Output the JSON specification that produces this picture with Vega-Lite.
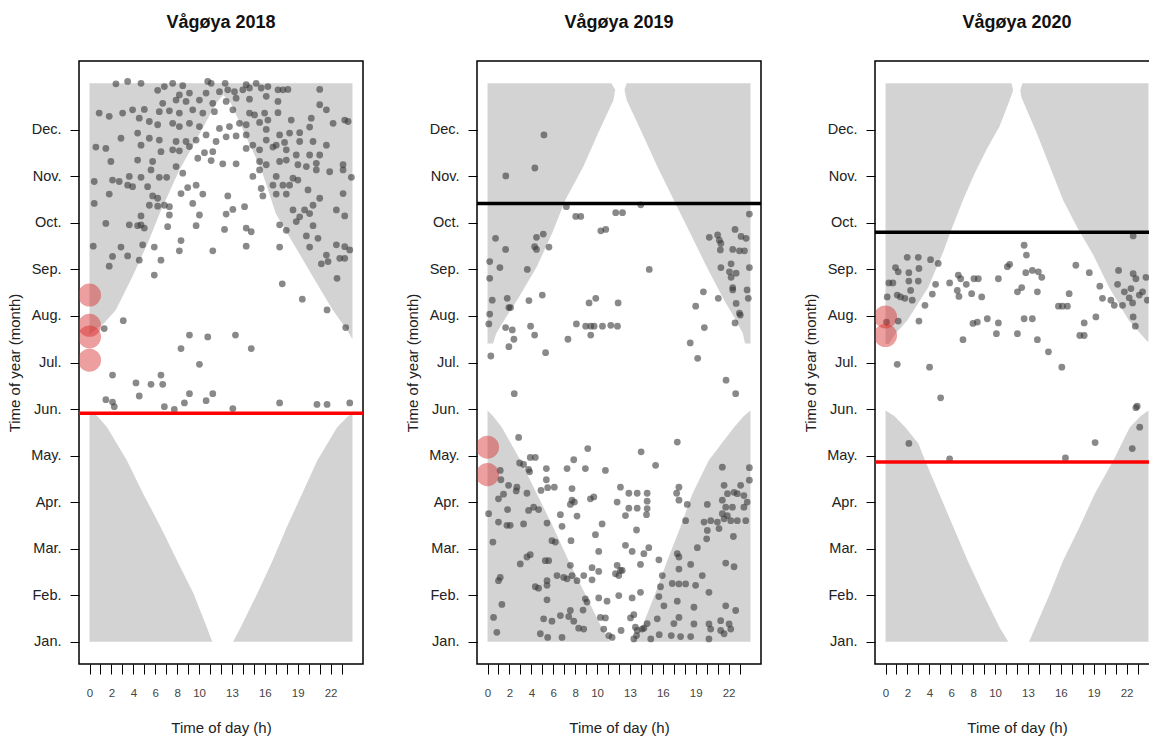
{
"$schema": "https://vega.github.io/schema/vega-lite/v6.json",
"background": "white",
"padding": {"left": 6, "top": 13, "right": 0, "bottom": 0},
"config": {
  "font": "Liberation Sans",
  "view": {"stroke": "black", "strokeWidth": 1.5},
  "axis": {"grid": false, "domain": false, "ticks": true, "tickColor": "black", "tickWidth": 1, "labelFont": "Liberation Sans", "titleFont": "Liberation Sans", "titleFontWeight": "normal", "titleColor": "#222", "labelColor": "#222", "labelFlush": false, "labelOverlap": false, "labelBound": false},
  "axisX": {"tickSize": 10, "labelPadding": 13, "labelFontSize": 11.5, "labelColor": "#444", "titleFontSize": 15, "titlePadding": 22},
  "axisY": {"tickSize": 9, "labelPadding": 9, "labelFontSize": 14.5, "titleFontSize": 15, "titlePadding": 8},
  "title": {"fontSize": 18, "fontWeight": "bold", "font": "Liberation Sans", "baseline": "alphabetic", "offset": 29, "anchor": "middle", "frame": "group", "color": "#111"}
},
"datasets": {
  "n18": [
    {"g":"uL","m":7.6,"a":0,"b":0},{"g":"uL","m":7.7,"a":0,"b":0.5},{"g":"uL","m":7.84,"a":0,"b":1.3},{"g":"uL","m":8.13,"a":0,"b":2.4},{"g":"uL","m":8.84,"a":0,"b":3.9},{"g":"uL","m":9.56,"a":0,"b":5.3},{"g":"uL","m":10.2,"a":0,"b":6.4},{"g":"uL","m":11.14,"a":0,"b":8.2},{"g":"uL","m":11.85,"a":0,"b":9.9},{"g":"uL","m":12.57,"a":0,"b":11.55},{"g":"uL","m":12.75,"a":0,"b":12.2},{"g":"uL","m":13.0,"a":0,"b":12.2},
    {"g":"uR","m":7.5,"a":24,"b":24},{"g":"uR","m":7.7,"a":23.5,"b":24},{"g":"uR","m":8.13,"a":22.2,"b":24},{"g":"uR","m":8.84,"a":20.4,"b":24},{"g":"uR","m":9.56,"a":18.6,"b":24},{"g":"uR","m":10.2,"a":17.0,"b":24},{"g":"uR","m":11.14,"a":15.7,"b":24},{"g":"uR","m":11.85,"a":14.3,"b":24},{"g":"uR","m":12.57,"a":12.9,"b":24},{"g":"uR","m":12.75,"a":12.2,"b":24},{"g":"uR","m":13.0,"a":12.2,"b":24},
    {"g":"lL","m":1.0,"a":0,"b":11.2},{"g":"lL","m":1.31,"a":0,"b":10.7},{"g":"lL","m":2.03,"a":0,"b":9.5},{"g":"lL","m":2.74,"a":0,"b":8.0},{"g":"lL","m":3.46,"a":0,"b":6.5},{"g":"lL","m":4.18,"a":0,"b":4.9},{"g":"lL","m":4.9,"a":0,"b":3.4},{"g":"lL","m":5.61,"a":0,"b":1.6},{"g":"lL","m":5.85,"a":0,"b":0.7},{"g":"lL","m":5.94,"a":0,"b":0},
    {"g":"lR","m":1.0,"a":13.1,"b":24},{"g":"lR","m":1.31,"a":13.8,"b":24},{"g":"lR","m":2.03,"a":15.3,"b":24},{"g":"lR","m":2.74,"a":16.7,"b":24},{"g":"lR","m":3.46,"a":18.0,"b":24},{"g":"lR","m":4.18,"a":19.4,"b":24},{"g":"lR","m":4.9,"a":20.8,"b":24},{"g":"lR","m":5.61,"a":22.6,"b":24},{"g":"lR","m":5.8,"a":23.4,"b":24},{"g":"lR","m":5.92,"a":24,"b":24}
  ],
  "n19": [
    {"g":"uL","m":7.41,"a":0,"b":0.5},{"g":"uL","m":7.63,"a":0,"b":0.8},{"g":"uL","m":7.98,"a":0,"b":1.7},{"g":"uL","m":8.34,"a":0,"b":2.7},{"g":"uL","m":9.06,"a":0,"b":4.5},{"g":"uL","m":9.78,"a":0,"b":5.9},{"g":"uL","m":10.49,"a":0,"b":7.1},{"g":"uL","m":11.21,"a":0,"b":8.75},{"g":"uL","m":11.93,"a":0,"b":10.1},{"g":"uL","m":12.64,"a":0,"b":11.5},{"g":"uL","m":12.86,"a":0,"b":11.65},{"g":"uL","m":13.0,"a":0,"b":11.3},
    {"g":"uR","m":7.41,"a":23.5,"b":24},{"g":"uR","m":7.63,"a":23.3,"b":24},{"g":"uR","m":7.98,"a":22.5,"b":24},{"g":"uR","m":8.34,"a":21.6,"b":24},{"g":"uR","m":9.06,"a":20.0,"b":24},{"g":"uR","m":9.78,"a":18.5,"b":24},{"g":"uR","m":10.49,"a":17.0,"b":24},{"g":"uR","m":11.21,"a":15.5,"b":24},{"g":"uR","m":11.93,"a":14.1,"b":24},{"g":"uR","m":12.64,"a":12.7,"b":24},{"g":"uR","m":12.86,"a":12.5,"b":24},{"g":"uR","m":13.0,"a":12.7,"b":24},
    {"g":"lL","m":1.0,"a":0,"b":11.2},{"g":"lL","m":1.31,"a":0,"b":10.4},{"g":"lL","m":2.03,"a":0,"b":8.9},{"g":"lL","m":2.74,"a":0,"b":7.4},{"g":"lL","m":3.46,"a":0,"b":6.0},{"g":"lL","m":4.18,"a":0,"b":4.5},{"g":"lL","m":4.9,"a":0,"b":3.0},{"g":"lL","m":5.61,"a":0,"b":1.3},{"g":"lL","m":5.85,"a":0,"b":0.5},{"g":"lL","m":5.97,"a":0,"b":0},
    {"g":"lR","m":1.0,"a":13.2,"b":24},{"g":"lR","m":1.31,"a":14.1,"b":24},{"g":"lR","m":2.03,"a":15.3,"b":24},{"g":"lR","m":2.74,"a":16.4,"b":24},{"g":"lR","m":3.46,"a":17.6,"b":24},{"g":"lR","m":4.18,"a":18.7,"b":24},{"g":"lR","m":4.9,"a":20.2,"b":24},{"g":"lR","m":5.61,"a":22.5,"b":24},{"g":"lR","m":5.85,"a":23.4,"b":24},{"g":"lR","m":5.97,"a":24,"b":24}
  ],
  "n20": [
    {"g":"uL","m":7.4,"a":0,"b":0.3},{"g":"uL","m":7.62,"a":0,"b":0.9},{"g":"uL","m":7.91,"a":0,"b":2.0},{"g":"uL","m":8.62,"a":0,"b":3.9},{"g":"uL","m":9.34,"a":0,"b":5.2},{"g":"uL","m":9.85,"a":0,"b":6.0},{"g":"uL","m":10.49,"a":0,"b":7.07},{"g":"uL","m":11.07,"a":0,"b":8.14},{"g":"uL","m":11.57,"a":0,"b":9.21},{"g":"uL","m":12.07,"a":0,"b":10.4},{"g":"uL","m":12.64,"a":0,"b":11.34},{"g":"uL","m":12.85,"a":0,"b":11.65},{"g":"uL","m":13.0,"a":0,"b":11.5},
    {"g":"uR","m":7.45,"a":23.9,"b":24},{"g":"uR","m":7.91,"a":22.2,"b":24},{"g":"uR","m":8.62,"a":20.4,"b":24},{"g":"uR","m":9.34,"a":18.9,"b":24},{"g":"uR","m":9.9,"a":17.5,"b":24},{"g":"uR","m":10.49,"a":16.2,"b":24},{"g":"uR","m":11.21,"a":15.0,"b":24},{"g":"uR","m":11.93,"a":13.8,"b":24},{"g":"uR","m":12.7,"a":12.4,"b":24},{"g":"uR","m":12.85,"a":12.3,"b":24},{"g":"uR","m":13.0,"a":12.5,"b":24},
    {"g":"lL","m":1.0,"a":0,"b":11.2},{"g":"lL","m":1.31,"a":0,"b":10.4},{"g":"lL","m":2.03,"a":0,"b":8.9},{"g":"lL","m":2.74,"a":0,"b":7.5},{"g":"lL","m":3.46,"a":0,"b":6.2},{"g":"lL","m":4.18,"a":0,"b":4.9},{"g":"lL","m":4.9,"a":0,"b":3.6},{"g":"lL","m":5.26,"a":0,"b":3.0},{"g":"lL","m":5.61,"a":0,"b":1.8},{"g":"lL","m":5.85,"a":0,"b":0.8},{"g":"lL","m":5.97,"a":0,"b":0},
    {"g":"lR","m":1.0,"a":13.1,"b":24},{"g":"lR","m":2.03,"a":15.0,"b":24},{"g":"lR","m":2.74,"a":16.2,"b":24},{"g":"lR","m":3.46,"a":17.7,"b":24},{"g":"lR","m":4.18,"a":19.1,"b":24},{"g":"lR","m":4.9,"a":20.8,"b":24},{"g":"lR","m":5.61,"a":22.3,"b":24},{"g":"lR","m":5.85,"a":23.3,"b":24},{"g":"lR","m":5.97,"a":24,"b":24}
  ],
  "p18": [
    {"h":2.41,"m":12.99},{"h":3.48,"m":13.04},{"h":4.7,"m":13.0},{"h":6.83,"m":12.93},{"h":7.59,"m":13.0},{"h":8.51,"m":12.95},{"h":10.79,"m":13.04},{"h":11.1,"m":13.0},{"h":12.38,"m":13.0},{"h":14.3,"m":12.97},{"h":15.21,"m":13.0},{"h":16.28,"m":12.93},
    {"h":6.22,"m":12.85},{"h":8.2,"m":12.75},{"h":9.12,"m":12.79},{"h":10.64,"m":12.79},{"h":11.86,"m":12.82},{"h":12.62,"m":12.86},{"h":13.23,"m":12.82},{"h":13.99,"m":12.86},{"h":14.6,"m":12.9},{"h":15.67,"m":12.9},{"h":17.2,"m":12.86},{"h":17.65,"m":12.86},{"h":18.11,"m":12.87},{"h":21.01,"m":12.87},
    {"h":6.68,"m":12.57},{"h":7.9,"m":12.64},{"h":8.81,"m":12.61},{"h":10.03,"m":12.64},{"h":11.25,"m":12.57},{"h":12.47,"m":12.61},{"h":13.38,"m":12.68},{"h":14.6,"m":12.66},{"h":16.13,"m":12.72},{"h":17.2,"m":12.61},{"h":21.01,"m":12.54},{"h":21.62,"m":12.43},
    {"h":0.88,"m":12.36},{"h":1.8,"m":12.29},{"h":3.02,"m":12.36},{"h":3.93,"m":12.43},{"h":5.0,"m":12.44},{"h":6.37,"m":12.39},{"h":7.29,"m":12.41},{"h":8.2,"m":12.36},{"h":9.42,"m":12.43},{"h":10.34,"m":12.36},{"h":11.4,"m":12.39},{"h":13.08,"m":12.43},{"h":14.6,"m":12.36},{"h":15.06,"m":12.32},{"h":15.98,"m":12.36},{"h":16.28,"m":12.21},{"h":17.2,"m":12.37},{"h":18.41,"m":12.21},{"h":20.24,"m":12.25},{"h":22.23,"m":12.14},{"h":23.29,"m":12.21},{"h":23.6,"m":12.18},
    {"h":4.54,"m":12.25},{"h":5.46,"m":12.18},{"h":6.22,"m":12.11},{"h":7.59,"m":12.14},{"h":8.2,"m":12.07},{"h":9.12,"m":12.14},{"h":10.03,"m":12.07},{"h":11.86,"m":12.03},{"h":12.77,"m":12.07},{"h":13.69,"m":12.14},{"h":14.3,"m":12.11},{"h":15.52,"m":12.16},{"h":16.13,"m":12.01},{"h":17.35,"m":11.89},{"h":18.26,"m":11.93},{"h":19.18,"m":11.94},{"h":20.09,"m":12.06},
    {"h":2.87,"m":11.82},{"h":4.39,"m":11.93},{"h":4.7,"m":11.67},{"h":5.46,"m":11.82},{"h":6.37,"m":11.78},{"h":7.9,"m":11.75},{"h":8.81,"m":11.75},{"h":9.73,"m":11.78},{"h":10.64,"m":11.89},{"h":11.55,"m":11.75},{"h":12.47,"m":11.85},{"h":13.38,"m":11.87},{"h":14.3,"m":11.89},{"h":14.91,"m":11.67},{"h":16.13,"m":11.78},{"h":17.04,"m":11.67},{"h":17.8,"m":11.73},{"h":19.18,"m":11.75},{"h":20.4,"m":11.75},{"h":21.62,"m":11.67},
    {"h":0.58,"m":11.63},{"h":1.49,"m":11.6},{"h":6.52,"m":11.53},{"h":7.59,"m":11.57},{"h":8.2,"m":11.55},{"h":9.12,"m":11.64},{"h":10.49,"m":11.51},{"h":11.25,"m":11.53},{"h":14.3,"m":11.6},{"h":15.52,"m":11.57},{"h":16.74,"m":11.63},{"h":17.96,"m":11.57},{"h":18.87,"m":11.46},{"h":20.09,"m":11.46},{"h":21.01,"m":11.46},
    {"h":1.95,"m":11.32},{"h":4.39,"m":11.35},{"h":5.76,"m":11.32},{"h":7.9,"m":11.21},{"h":9.88,"m":11.39},{"h":11.1,"m":11.34},{"h":12.16,"m":11.27},{"h":13.38,"m":11.27},{"h":15.52,"m":11.32},{"h":16.13,"m":11.25},{"h":17.35,"m":11.32},{"h":17.96,"m":11.35},{"h":19.02,"m":11.25},{"h":19.79,"m":11.21},{"h":20.7,"m":11.28},{"h":23.14,"m":11.25},
    {"h":0.43,"m":10.89},{"h":2.1,"m":10.92},{"h":2.71,"m":10.89},{"h":3.63,"m":11.0},{"h":4.7,"m":10.98},{"h":5.61,"m":11.14},{"h":6.37,"m":10.98},{"h":7.04,"m":10.98},{"h":8.51,"m":11.07},{"h":14.91,"m":11.0},{"h":15.52,"m":11.14},{"h":17.04,"m":11.0},{"h":18.57,"m":10.96},{"h":19.02,"m":10.92},{"h":20.7,"m":11.14},{"h":21.92,"m":11.1},{"h":23.14,"m":11.14},{"h":23.9,"m":10.98},
    {"h":3.48,"m":10.81},{"h":3.93,"m":10.78},{"h":5.3,"m":10.78},{"h":8.96,"m":10.76},{"h":9.73,"m":10.81},{"h":15.67,"m":10.74},{"h":16.74,"m":10.81},{"h":17.65,"m":10.81},{"h":18.26,"m":10.81},{"h":19.94,"m":10.71},
    {"h":1.8,"m":10.62},{"h":5.76,"m":10.58},{"h":6.22,"m":10.53},{"h":8.35,"m":10.63},{"h":10.34,"m":10.62},{"h":12.62,"m":10.58},{"h":15.82,"m":10.58},{"h":17.04,"m":10.62},{"h":17.96,"m":10.62},{"h":21.01,"m":10.53},{"h":23.14,"m":10.63},
    {"h":0.43,"m":10.42},{"h":5.46,"m":10.38},{"h":6.22,"m":10.36},{"h":6.83,"m":10.38},{"h":7.29,"m":10.35},{"h":9.42,"m":10.42},{"h":13.08,"m":10.29},{"h":14.15,"m":10.35},{"h":18.57,"m":10.28},{"h":19.63,"m":10.28},{"h":20.4,"m":10.38},{"h":22.53,"m":10.28},{"h":4.7,"m":10.15},{"h":7.29,"m":10.17},{"h":10.03,"m":10.17},{"h":12.47,"m":10.19},{"h":19.18,"m":10.13},{"h":20.09,"m":10.2},{"h":23.29,"m":10.15},
    {"h":1.49,"m":9.99},{"h":3.63,"m":9.96},{"h":4.39,"m":9.94},{"h":4.7,"m":9.96},{"h":5.0,"m":9.89},{"h":7.13,"m":9.92},{"h":9.73,"m":9.94},{"h":12.32,"m":9.86},{"h":14.3,"m":9.89},{"h":14.76,"m":9.81},{"h":17.35,"m":9.96},{"h":17.96,"m":9.84},{"h":18.87,"m":10.03},{"h":20.4,"m":9.94},{"h":19.79,"m":9.72},{"h":20.85,"m":9.67},{"h":22.53,"m":9.53},{"h":23.29,"m":9.49},{"h":23.75,"m":9.42},{"h":22.84,"m":9.24},{"h":23.29,"m":9.24},{"h":21.62,"m":9.31},{"h":21.77,"m":9.17},{"h":21.16,"m":9.12},
    {"h":0.34,"m":9.5},{"h":2.1,"m":9.28},{"h":2.87,"m":9.48},{"h":3.48,"m":9.29},{"h":4.54,"m":9.2},{"h":4.85,"m":9.53},{"h":5.91,"m":9.48},{"h":6.52,"m":9.2},{"h":8.2,"m":9.4},{"h":8.35,"m":9.62},{"h":11.25,"m":9.4},{"h":14.3,"m":9.5},{"h":17.35,"m":9.48},{"h":20.09,"m":9.48},{"h":1.8,"m":9.07},{"h":5.91,"m":8.88},
    {"h":17.59,"m":8.69},{"h":22.59,"m":8.81},{"h":19.42,"m":8.36},{"h":21.68,"m":8.13},{"h":23.38,"m":7.75},{"h":3.08,"m":7.9},{"h":1.34,"m":7.73},
    {"h":9.12,"m":7.59},{"h":10.79,"m":7.55},{"h":13.32,"m":7.59},{"h":8.35,"m":7.3},{"h":14.76,"m":7.3},{"h":10.03,"m":6.96},
    {"h":2.1,"m":6.73},{"h":4.24,"m":6.56},{"h":5.61,"m":6.53},{"h":6.52,"m":6.73},{"h":6.68,"m":6.53},{"h":9.12,"m":6.33},{"h":11.25,"m":6.33},{"h":4.54,"m":6.28},{"h":1.49,"m":6.2},{"h":2.1,"m":6.15},{"h":2.26,"m":6.05},{"h":8.66,"m":6.13},{"h":10.64,"m":6.18},{"h":6.83,"m":6.05},{"h":7.74,"m":5.99},{"h":13.08,"m":6.01},{"h":17.35,"m":6.13},{"h":20.76,"m":6.1},{"h":21.68,"m":6.1},{"h":23.75,"m":6.13}
  ],
  "p19": [
    {"h":1.67,"m":11.01},{"h":4.32,"m":11.18},{"h":5.15,"m":11.89},{"h":7.2,"m":10.35},{"h":13.99,"m":10.39},
    {"h":8.05,"m":10.14},{"h":8.51,"m":10.14},{"h":11.7,"m":10.22},{"h":12.32,"m":10.22},{"h":23.9,"m":10.19},{"h":10.34,"m":9.83},{"h":10.79,"m":9.86},{"h":0.73,"m":9.67},{"h":4.47,"m":9.69},{"h":5.09,"m":9.76},{"h":4.3,"m":9.49},{"h":4.47,"m":9.43},{"h":5.61,"m":9.48},{"h":1.65,"m":9.43},{"h":20.24,"m":9.69},{"h":21.0,"m":9.74},{"h":21.16,"m":9.63},{"h":21.3,"m":9.56},{"h":21.25,"m":9.42},{"h":22.59,"m":9.86},{"h":23.14,"m":9.71},{"h":23.6,"m":9.67},{"h":22.38,"m":9.43},{"h":22.99,"m":9.4},{"h":23.45,"m":9.4},{"h":0.2,"m":9.17},{"h":1.13,"m":9.04},{"h":3.63,"m":9.0},{"h":14.76,"m":9.0},{"h":21.3,"m":9.04},{"h":22.08,"m":8.95},{"h":22.69,"m":8.92},{"h":23.9,"m":9.04},{"h":22.23,"m":9.12},{"h":0.2,"m":8.81},{"h":0.43,"m":8.34},{"h":1.8,"m":8.38},{"h":1.95,"m":8.18},{"h":2.1,"m":8.18},{"h":3.78,"m":8.33},{"h":5.0,"m":8.45},{"h":9.88,"m":8.38},{"h":9.27,"m":8.28},{"h":11.92,"m":8.28},{"h":0.2,"m":8.04},{"h":0.12,"m":7.83},{"h":1.65,"m":7.75},{"h":2.26,"m":7.7},{"h":3.93,"m":7.78},{"h":4.3,"m":7.59},{"h":2.41,"m":7.5},{"h":1.95,"m":7.34},{"h":0.3,"m":7.14},{"h":5.3,"m":7.21},{"h":7.34,"m":7.5},{"h":8.11,"m":7.83},{"h":8.96,"m":7.78},{"h":9.42,"m":7.78},{"h":9.73,"m":7.78},{"h":9.42,"m":7.59},{"h":10.49,"m":7.78},{"h":11.25,"m":7.8},{"h":11.86,"m":7.78},{"h":19.7,"m":8.52},{"h":21.06,"m":8.38},{"h":22.23,"m":8.83},{"h":22.38,"m":8.61},{"h":22.38,"m":8.56},{"h":23.69,"m":8.56},{"h":23.8,"m":8.38},{"h":22.69,"m":8.27},{"h":19.0,"m":8.21},{"h":22.99,"m":8.06},{"h":23.07,"m":8.02},{"h":22.59,"m":7.85},{"h":19.79,"m":7.75},{"h":18.5,"m":7.42},{"h":19.18,"m":7.09},{"h":21.77,"m":6.62},
    {"h":2.44,"m":6.33},{"h":22.65,"m":6.33},{"h":2.84,"m":5.39},{"h":17.32,"m":5.29},{"h":9.15,"m":5.15},{"h":14.02,"m":5.08},{"h":7.87,"m":4.91},{"h":2.93,"m":4.84},{"h":3.29,"m":4.81},{"h":3.9,"m":4.96},{"h":4.36,"m":4.96},{"h":3.75,"m":4.7},{"h":3.84,"m":4.65},{"h":1.16,"m":4.68},{"h":1.22,"m":4.48},{"h":5.37,"m":4.72},{"h":7.26,"m":4.72},{"h":8.93,"m":4.72},{"h":10.76,"m":4.68},{"h":15.34,"m":4.79},{"h":21.43,"m":4.75},{"h":23.9,"m":4.74},{"h":5.37,"m":4.48},{"h":1.92,"m":4.36},{"h":2.68,"m":4.32},{"h":2.62,"m":4.24},{"h":3.6,"m":4.19},{"h":4.88,"m":4.25},{"h":5.49,"m":4.31},{"h":6.1,"m":4.32},{"h":7.71,"m":4.29},{"h":12.13,"m":4.32},{"h":12.9,"m":4.19},{"h":13.66,"m":4.19},{"h":14.57,"m":4.19},{"h":17.47,"m":4.32},{"h":17.26,"m":4.19},{"h":21.59,"m":4.36},{"h":22.5,"m":4.21},{"h":23.1,"m":4.36},{"h":23.9,"m":4.47},{"h":21.9,"m":4.18},{"h":22.8,"m":4.18},{"h":23.4,"m":4.14},{"h":1.0,"m":4.07},{"h":1.46,"m":4.17},{"h":9.39,"m":4.07},{"h":9.7,"m":4.11},{"h":7.71,"m":4.04},{"h":7.56,"m":3.95},{"h":7.93,"m":4.0},{"h":11.83,"m":4.0},{"h":12.9,"m":3.87},{"h":13.66,"m":3.87},{"h":14.57,"m":4.02},{"h":14.57,"m":3.86},{"h":17.47,"m":4.04},{"h":18.23,"m":3.95},{"h":20.06,"m":3.95},{"h":21.43,"m":4.04},{"h":21.74,"m":3.89},{"h":22.35,"m":3.89},{"h":23.4,"m":3.89},{"h":23.7,"m":4.0},{"h":0.1,"m":3.75},{"h":1.83,"m":3.84},{"h":3.75,"m":3.82},{"h":4.21,"m":3.89},{"h":4.66,"m":3.84},{"h":6.65,"m":3.73},{"h":8.17,"m":3.7},
    {"h":1.0,"m":3.57},{"h":1.77,"m":3.5},{"h":2.07,"m":3.5},{"h":3.29,"m":3.53},{"h":5.43,"m":3.55},{"h":6.8,"m":3.48},{"h":10.46,"m":3.53},{"h":9.85,"m":3.3},{"h":12.59,"m":3.71},{"h":13.6,"m":3.4},{"h":14.51,"m":3.73},{"h":18.08,"m":3.6},{"h":19.76,"m":3.57},{"h":20.37,"m":3.6},{"h":20.98,"m":3.57},{"h":21.59,"m":3.64},{"h":22.2,"m":3.6},{"h":22.8,"m":3.6},{"h":23.57,"m":3.6},{"h":21.43,"m":3.75},{"h":21.89,"m":3.71},{"h":20.06,"m":3.39},{"h":21.13,"m":3.43},{"h":20.0,"m":3.21},{"h":22.44,"m":3.26},{"h":0.49,"m":3.14},{"h":5.88,"m":3.17},{"h":6.19,"m":3.14},{"h":7.62,"m":3.17},{"h":10.15,"m":2.94},{"h":12.59,"m":3.07},{"h":13.2,"m":2.94},{"h":14.27,"m":2.89},{"h":14.72,"m":3.02},{"h":2.99,"m":2.67},{"h":3.6,"m":2.82},{"h":3.9,"m":2.87},{"h":5.27,"m":2.74},{"h":5.58,"m":2.74},{"h":15.64,"m":2.76},{"h":13.96,"m":2.66},{"h":17.32,"m":2.89},{"h":17.47,"m":2.82},{"h":17.47,"m":2.56},{"h":18.54,"m":2.66},{"h":19.15,"m":3.02},{"h":21.74,"m":2.69},{"h":22.5,"m":2.61},{"h":11.83,"m":2.64},{"h":12.13,"m":2.53},{"h":11.68,"m":2.46},{"h":9.54,"m":2.59},{"h":10.15,"m":2.51},{"h":7.56,"m":2.64},{"h":6.95,"m":2.38},{"h":7.26,"m":2.35},{"h":7.71,"m":2.42},{"h":8.17,"m":2.31},{"h":6.34,"m":2.42},{"h":8.78,"m":2.42},{"h":1.0,"m":2.31},{"h":1.16,"m":2.38},{"h":4.36,"m":2.18},{"h":4.66,"m":2.15},{"h":5.43,"m":2.31},{"h":5.43,"m":2.21},{"h":9.54,"m":2.33},{"h":11.98,"m":2.42},{"h":12.29,"m":2.53},{"h":15.95,"m":2.42},{"h":16.86,"m":2.25},{"h":15.79,"m":2.18},{"h":17.47,"m":2.24},{"h":18.08,"m":2.24},{"h":18.99,"m":2.21},{"h":19.6,"m":2.42},{"h":20.21,"m":2.06},{"h":13.96,"m":2.06},{"h":5.43,"m":1.9},{"h":1.31,"m":1.8},{"h":8.93,"m":1.92},{"h":9.08,"m":1.85},{"h":8.72,"m":1.68},{"h":10.15,"m":1.94},{"h":10.91,"m":1.87},{"h":11.98,"m":1.99},{"h":13.2,"m":1.94},{"h":15.64,"m":1.97},{"h":16.1,"m":1.77},{"h":17.32,"m":1.87},{"h":18.84,"m":1.74},{"h":21.74,"m":1.77},{"h":22.65,"m":1.67},{"h":0.55,"m":1.52},{"h":5.12,"m":1.49},{"h":5.88,"m":1.44},{"h":6.65,"m":1.56},{"h":7.56,"m":1.67},{"h":7.41,"m":1.54},{"h":8.32,"m":1.29},{"h":8.78,"m":1.27},{"h":7.87,"m":1.44},{"h":10.3,"m":1.52},{"h":10.76,"m":1.51},{"h":13.05,"m":1.51},{"h":13.35,"m":1.58},{"h":15.49,"m":1.49},{"h":14.57,"m":1.39},{"h":17.47,"m":1.52},{"h":17.01,"m":1.39},{"h":18.84,"m":1.38},{"h":20.21,"m":1.38},{"h":20.37,"m":1.27},{"h":21.28,"m":1.45},{"h":22.05,"m":1.38},{"h":22.2,"m":1.27},{"h":0.85,"m":1.2},{"h":4.82,"m":1.17},{"h":5.49,"m":1.09},{"h":6.8,"m":1.09},{"h":10.61,"m":1.27},{"h":11.07,"m":1.13},{"h":11.37,"m":1.09},{"h":12.19,"m":1.24},{"h":13.5,"m":1.31},{"h":13.66,"m":1.24},{"h":14.11,"m":1.27},{"h":14.27,"m":1.29},{"h":13.6,"m":1.13},{"h":13.35,"m":1.06},{"h":14.9,"m":1.06},{"h":15.67,"m":1.15},{"h":16.77,"m":1.13},{"h":17.62,"m":1.11},{"h":18.54,"m":1.11},{"h":20.21,"m":1.06},{"h":21.59,"m":1.17},{"h":21.28,"m":1.24}
  ],
  "p20": [
    {"h":22.6,"m":9.72},{"h":12.65,"m":9.52},{"h":12.86,"m":9.31},{"h":17.37,"m":9.09},{"h":11.12,"m":9.06},{"h":11.33,"m":9.11},{"h":1.98,"m":9.26},{"h":2.99,"m":9.26},{"h":4.11,"m":9.21},{"h":0.91,"m":9.04},{"h":1.16,"m":8.95},{"h":2.13,"m":8.93},{"h":3.05,"m":9.02},{"h":4.81,"m":9.13},{"h":12.8,"m":8.93},{"h":13.4,"m":8.98},{"h":13.95,"m":8.95},{"h":14.26,"m":8.83},{"h":18.6,"m":8.93},{"h":6.64,"m":8.88},{"h":6.86,"m":8.8},{"h":7.37,"m":8.68},{"h":8.07,"m":8.8},{"h":8.47,"m":8.8},{"h":10.3,"m":8.8},{"h":0.3,"m":8.71},{"h":0.67,"m":8.71},{"h":2.13,"m":8.75},{"h":2.99,"m":8.75},{"h":4.57,"m":8.68},{"h":5.85,"m":8.71},{"h":6.55,"m":8.55},{"h":6.7,"m":8.42},{"h":7.86,"m":8.48},{"h":8.78,"m":8.41},{"h":12.04,"m":8.52},{"h":12.43,"m":8.61},{"h":13.86,"m":8.52},{"h":16.76,"m":8.48},{"h":19.56,"m":8.64},{"h":19.8,"m":8.38},{"h":21.27,"m":8.98},{"h":22.6,"m":8.91},{"h":22.85,"m":8.8},{"h":23.77,"m":8.83},{"h":21.18,"m":8.68},{"h":21.8,"m":8.52},{"h":22.4,"m":8.59},{"h":23.16,"m":8.45},{"h":23.46,"m":8.52},{"h":23.9,"m":8.34},{"h":20.57,"m":8.34},{"h":20.88,"m":8.23},{"h":21.63,"m":8.23},{"h":22.24,"m":8.39},{"h":22.55,"m":8.28},{"h":0.15,"m":8.41},{"h":1.07,"m":8.45},{"h":1.37,"m":8.41},{"h":1.77,"m":8.38},{"h":2.44,"m":8.34},{"h":2.29,"m":8.55},{"h":4.27,"m":8.47},{"h":3.6,"m":8.23},{"h":15.78,"m":8.21},{"h":16.15,"m":8.21},{"h":16.6,"m":8.21},{"h":19.2,"m":7.98},{"h":22.6,"m":7.98},{"h":22.8,"m":7.78},{"h":0.09,"m":7.87},{"h":1.16,"m":7.89},{"h":3.05,"m":7.89},{"h":7.98,"m":7.84},{"h":8.38,"m":7.87},{"h":9.29,"m":7.94},{"h":10.3,"m":7.85},{"h":12.65,"m":7.94},{"h":13.4,"m":7.94},{"h":18.13,"m":7.85},{"h":17.73,"m":7.58},{"h":18.13,"m":7.58},{"h":10.12,"m":7.62},{"h":12.04,"m":7.62},{"h":13.86,"m":7.49},{"h":7.07,"m":7.49},{"h":14.87,"m":7.23},{"h":16.09,"m":6.9},{"h":1.07,"m":6.96},{"h":4.02,"m":6.9},{"h":5.03,"m":6.24},
    {"h":22.85,"m":6.03},{"h":22.97,"m":6.06},{"h":23.2,"m":5.61},{"h":2.13,"m":5.26},{"h":19.13,"m":5.28},{"h":22.52,"m":5.15},{"h":5.85,"m":4.93},{"h":16.42,"m":4.95}
  ],
  "r18": [{"h":0,"m":8.45},{"h":0,"m":7.8},{"h":0,"m":7.55},{"h":0,"m":7.05}],
  "r19": [{"h":0,"m":5.18},{"h":0,"m":4.59}],
  "r20": [{"h":0,"m":7.98},{"h":0,"m":7.58}],
  "l18": [{"m":5.91,"c":"#ff0000"}],
  "l19": [{"m":10.42,"c":"#000000"}],
  "l20": [{"m":9.8,"c":"#000000"},{"m":4.86,"c":"#ff0000"}]
},
"bounds": "flush",
"spacing": 114,
"hconcat": [
  {"width": 284, "height": 603, "title": "Vågøya 2018",
   "layer": [
    {"data": {"name": "n18"}, "mark": {"type": "area", "orient": "horizontal", "color": "#d3d3d3"},
     "encoding": {
      "y": {"field": "m", "type": "quantitative", "title": "Time of year (month)", "scale": {"domain": [0.52, 13.48], "nice": false, "zero": false}, "axis": {"values": [1,2,3,4,5,6,7,8,9,10,11,12], "labelOverlap": false, "labelExpr": "['Jan.','Feb.','Mar.','Apr.','May.','Jun.','Jul.','Aug.','Sep.','Oct.','Nov.','Dec.'][datum.value-1]"}},
      "x": {"field": "a", "type": "quantitative", "title": "Time of day (h)", "scale": {"domain": [-0.96, 24.96], "nice": false, "zero": false}, "axis": {"values": [0,1,2,3,4,5,6,7,8,9,10,11,12,13,14,15,16,17,18,19,20,21,22,23], "ticks": true, "tickSize": 10, "tickColor": "#000000", "tickWidth": 1, "labelOverlap": false, "labelSeparation": 0, "labelExpr": "(datum.value == 0 || datum.value == 2 || datum.value == 4 || datum.value == 6 || datum.value == 8 || datum.value == 10 || datum.value == 13 || datum.value == 16 || datum.value == 19 || datum.value == 22) ? datum.label : ''"}},
      "x2": {"field": "b"},
      "detail": {"field": "g"}}},
    {"data": {"name": "p18"}, "mark": {"type": "circle", "color": "#3a3a3a", "opacity": 0.6, "size": 46},
     "encoding": {
      "x": {"field": "h", "type": "quantitative", "title": "Time of day (h)", "axis": {"values": [0,1,2,3,4,5,6,7,8,9,10,11,12,13,14,15,16,17,18,19,20,21,22,23], "ticks": true, "tickSize": 10, "tickColor": "#000000", "tickWidth": 1, "labelOverlap": false, "labelSeparation": 0, "labelExpr": "(datum.value == 0 || datum.value == 2 || datum.value == 4 || datum.value == 6 || datum.value == 8 || datum.value == 10 || datum.value == 13 || datum.value == 16 || datum.value == 19 || datum.value == 22) ? datum.label : ''"}},
      "y": {"field": "m", "type": "quantitative", "title": "Time of year (month)", "axis": {"values": [1,2,3,4,5,6,7,8,9,10,11,12], "labelOverlap": false, "labelExpr": "['Jan.','Feb.','Mar.','Apr.','May.','Jun.','Jul.','Aug.','Sep.','Oct.','Nov.','Dec.'][datum.value-1]"}}}},
    {"data": {"name": "r18"}, "mark": {"type": "circle", "color": "#d62728", "opacity": 0.45, "size": 530, "clip": true},
     "encoding": {
      "x": {"field": "h", "type": "quantitative", "title": "Time of day (h)", "axis": {"values": [0,1,2,3,4,5,6,7,8,9,10,11,12,13,14,15,16,17,18,19,20,21,22,23], "ticks": true, "tickSize": 10, "tickColor": "#000000", "tickWidth": 1, "labelOverlap": false, "labelSeparation": 0, "labelExpr": "(datum.value == 0 || datum.value == 2 || datum.value == 4 || datum.value == 6 || datum.value == 8 || datum.value == 10 || datum.value == 13 || datum.value == 16 || datum.value == 19 || datum.value == 22) ? datum.label : ''"}},
      "y": {"field": "m", "type": "quantitative", "title": "Time of year (month)", "axis": {"values": [1,2,3,4,5,6,7,8,9,10,11,12], "labelOverlap": false, "labelExpr": "['Jan.','Feb.','Mar.','Apr.','May.','Jun.','Jul.','Aug.','Sep.','Oct.','Nov.','Dec.'][datum.value-1]"}}}},
    {"data": {"name": "l18"}, "mark": {"type": "rule", "strokeWidth": 3.5},
     "encoding": {
      "y": {"field": "m", "type": "quantitative", "title": "Time of year (month)", "axis": {"values": [1,2,3,4,5,6,7,8,9,10,11,12], "labelOverlap": false, "labelExpr": "['Jan.','Feb.','Mar.','Apr.','May.','Jun.','Jul.','Aug.','Sep.','Oct.','Nov.','Dec.'][datum.value-1]"}},
      "color": {"field": "c", "type": "nominal", "scale": null}}}
   ]},
  {"width": 284, "height": 603, "title": "Vågøya 2019",
   "layer": [
    {"data": {"name": "n19"}, "mark": {"type": "area", "orient": "horizontal", "color": "#d3d3d3"},
     "encoding": {
      "y": {"field": "m", "type": "quantitative", "title": "Time of year (month)", "scale": {"domain": [0.52, 13.48], "nice": false, "zero": false}, "axis": {"values": [1,2,3,4,5,6,7,8,9,10,11,12], "labelOverlap": false, "labelExpr": "['Jan.','Feb.','Mar.','Apr.','May.','Jun.','Jul.','Aug.','Sep.','Oct.','Nov.','Dec.'][datum.value-1]"}},
      "x": {"field": "a", "type": "quantitative", "title": "Time of day (h)", "scale": {"domain": [-0.96, 24.96], "nice": false, "zero": false}, "axis": {"values": [0,1,2,3,4,5,6,7,8,9,10,11,12,13,14,15,16,17,18,19,20,21,22,23], "ticks": true, "tickSize": 10, "tickColor": "#000000", "tickWidth": 1, "labelOverlap": false, "labelSeparation": 0, "labelExpr": "(datum.value == 0 || datum.value == 2 || datum.value == 4 || datum.value == 6 || datum.value == 8 || datum.value == 10 || datum.value == 13 || datum.value == 16 || datum.value == 19 || datum.value == 22) ? datum.label : ''"}},
      "x2": {"field": "b"},
      "detail": {"field": "g"}}},
    {"data": {"name": "p19"}, "mark": {"type": "circle", "color": "#3a3a3a", "opacity": 0.6, "size": 46},
     "encoding": {
      "x": {"field": "h", "type": "quantitative", "title": "Time of day (h)", "axis": {"values": [0,1,2,3,4,5,6,7,8,9,10,11,12,13,14,15,16,17,18,19,20,21,22,23], "ticks": true, "tickSize": 10, "tickColor": "#000000", "tickWidth": 1, "labelOverlap": false, "labelSeparation": 0, "labelExpr": "(datum.value == 0 || datum.value == 2 || datum.value == 4 || datum.value == 6 || datum.value == 8 || datum.value == 10 || datum.value == 13 || datum.value == 16 || datum.value == 19 || datum.value == 22) ? datum.label : ''"}},
      "y": {"field": "m", "type": "quantitative", "title": "Time of year (month)", "axis": {"values": [1,2,3,4,5,6,7,8,9,10,11,12], "labelOverlap": false, "labelExpr": "['Jan.','Feb.','Mar.','Apr.','May.','Jun.','Jul.','Aug.','Sep.','Oct.','Nov.','Dec.'][datum.value-1]"}}}},
    {"data": {"name": "r19"}, "mark": {"type": "circle", "color": "#d62728", "opacity": 0.45, "size": 530, "clip": true},
     "encoding": {
      "x": {"field": "h", "type": "quantitative", "title": "Time of day (h)", "axis": {"values": [0,1,2,3,4,5,6,7,8,9,10,11,12,13,14,15,16,17,18,19,20,21,22,23], "ticks": true, "tickSize": 10, "tickColor": "#000000", "tickWidth": 1, "labelOverlap": false, "labelSeparation": 0, "labelExpr": "(datum.value == 0 || datum.value == 2 || datum.value == 4 || datum.value == 6 || datum.value == 8 || datum.value == 10 || datum.value == 13 || datum.value == 16 || datum.value == 19 || datum.value == 22) ? datum.label : ''"}},
      "y": {"field": "m", "type": "quantitative", "title": "Time of year (month)", "axis": {"values": [1,2,3,4,5,6,7,8,9,10,11,12], "labelOverlap": false, "labelExpr": "['Jan.','Feb.','Mar.','Apr.','May.','Jun.','Jul.','Aug.','Sep.','Oct.','Nov.','Dec.'][datum.value-1]"}}}},
    {"data": {"name": "l19"}, "mark": {"type": "rule", "strokeWidth": 3.5},
     "encoding": {
      "y": {"field": "m", "type": "quantitative", "title": "Time of year (month)", "axis": {"values": [1,2,3,4,5,6,7,8,9,10,11,12], "labelOverlap": false, "labelExpr": "['Jan.','Feb.','Mar.','Apr.','May.','Jun.','Jul.','Aug.','Sep.','Oct.','Nov.','Dec.'][datum.value-1]"}},
      "color": {"field": "c", "type": "nominal", "scale": null}}}
   ]},
  {"width": 284, "height": 603, "title": "Vågøya 2020",
   "layer": [
    {"data": {"name": "n20"}, "mark": {"type": "area", "orient": "horizontal", "color": "#d3d3d3"},
     "encoding": {
      "y": {"field": "m", "type": "quantitative", "title": "Time of year (month)", "scale": {"domain": [0.52, 13.48], "nice": false, "zero": false}, "axis": {"values": [1,2,3,4,5,6,7,8,9,10,11,12], "labelOverlap": false, "labelExpr": "['Jan.','Feb.','Mar.','Apr.','May.','Jun.','Jul.','Aug.','Sep.','Oct.','Nov.','Dec.'][datum.value-1]"}},
      "x": {"field": "a", "type": "quantitative", "title": "Time of day (h)", "scale": {"domain": [-0.96, 24.96], "nice": false, "zero": false}, "axis": {"values": [0,1,2,3,4,5,6,7,8,9,10,11,12,13,14,15,16,17,18,19,20,21,22,23], "ticks": true, "tickSize": 10, "tickColor": "#000000", "tickWidth": 1, "labelOverlap": false, "labelSeparation": 0, "labelExpr": "(datum.value == 0 || datum.value == 2 || datum.value == 4 || datum.value == 6 || datum.value == 8 || datum.value == 10 || datum.value == 13 || datum.value == 16 || datum.value == 19 || datum.value == 22) ? datum.label : ''"}},
      "x2": {"field": "b"},
      "detail": {"field": "g"}}},
    {"data": {"name": "p20"}, "mark": {"type": "circle", "color": "#3a3a3a", "opacity": 0.6, "size": 46},
     "encoding": {
      "x": {"field": "h", "type": "quantitative", "title": "Time of day (h)", "axis": {"values": [0,1,2,3,4,5,6,7,8,9,10,11,12,13,14,15,16,17,18,19,20,21,22,23], "ticks": true, "tickSize": 10, "tickColor": "#000000", "tickWidth": 1, "labelOverlap": false, "labelSeparation": 0, "labelExpr": "(datum.value == 0 || datum.value == 2 || datum.value == 4 || datum.value == 6 || datum.value == 8 || datum.value == 10 || datum.value == 13 || datum.value == 16 || datum.value == 19 || datum.value == 22) ? datum.label : ''"}},
      "y": {"field": "m", "type": "quantitative", "title": "Time of year (month)", "axis": {"values": [1,2,3,4,5,6,7,8,9,10,11,12], "labelOverlap": false, "labelExpr": "['Jan.','Feb.','Mar.','Apr.','May.','Jun.','Jul.','Aug.','Sep.','Oct.','Nov.','Dec.'][datum.value-1]"}}}},
    {"data": {"name": "r20"}, "mark": {"type": "circle", "color": "#d62728", "opacity": 0.45, "size": 530, "clip": true},
     "encoding": {
      "x": {"field": "h", "type": "quantitative", "title": "Time of day (h)", "axis": {"values": [0,1,2,3,4,5,6,7,8,9,10,11,12,13,14,15,16,17,18,19,20,21,22,23], "ticks": true, "tickSize": 10, "tickColor": "#000000", "tickWidth": 1, "labelOverlap": false, "labelSeparation": 0, "labelExpr": "(datum.value == 0 || datum.value == 2 || datum.value == 4 || datum.value == 6 || datum.value == 8 || datum.value == 10 || datum.value == 13 || datum.value == 16 || datum.value == 19 || datum.value == 22) ? datum.label : ''"}},
      "y": {"field": "m", "type": "quantitative", "title": "Time of year (month)", "axis": {"values": [1,2,3,4,5,6,7,8,9,10,11,12], "labelOverlap": false, "labelExpr": "['Jan.','Feb.','Mar.','Apr.','May.','Jun.','Jul.','Aug.','Sep.','Oct.','Nov.','Dec.'][datum.value-1]"}}}},
    {"data": {"name": "l20"}, "mark": {"type": "rule", "strokeWidth": 3.5},
     "encoding": {
      "y": {"field": "m", "type": "quantitative", "title": "Time of year (month)", "axis": {"values": [1,2,3,4,5,6,7,8,9,10,11,12], "labelOverlap": false, "labelExpr": "['Jan.','Feb.','Mar.','Apr.','May.','Jun.','Jul.','Aug.','Sep.','Oct.','Nov.','Dec.'][datum.value-1]"}},
      "color": {"field": "c", "type": "nominal", "scale": null}}}
   ]}
]
}
